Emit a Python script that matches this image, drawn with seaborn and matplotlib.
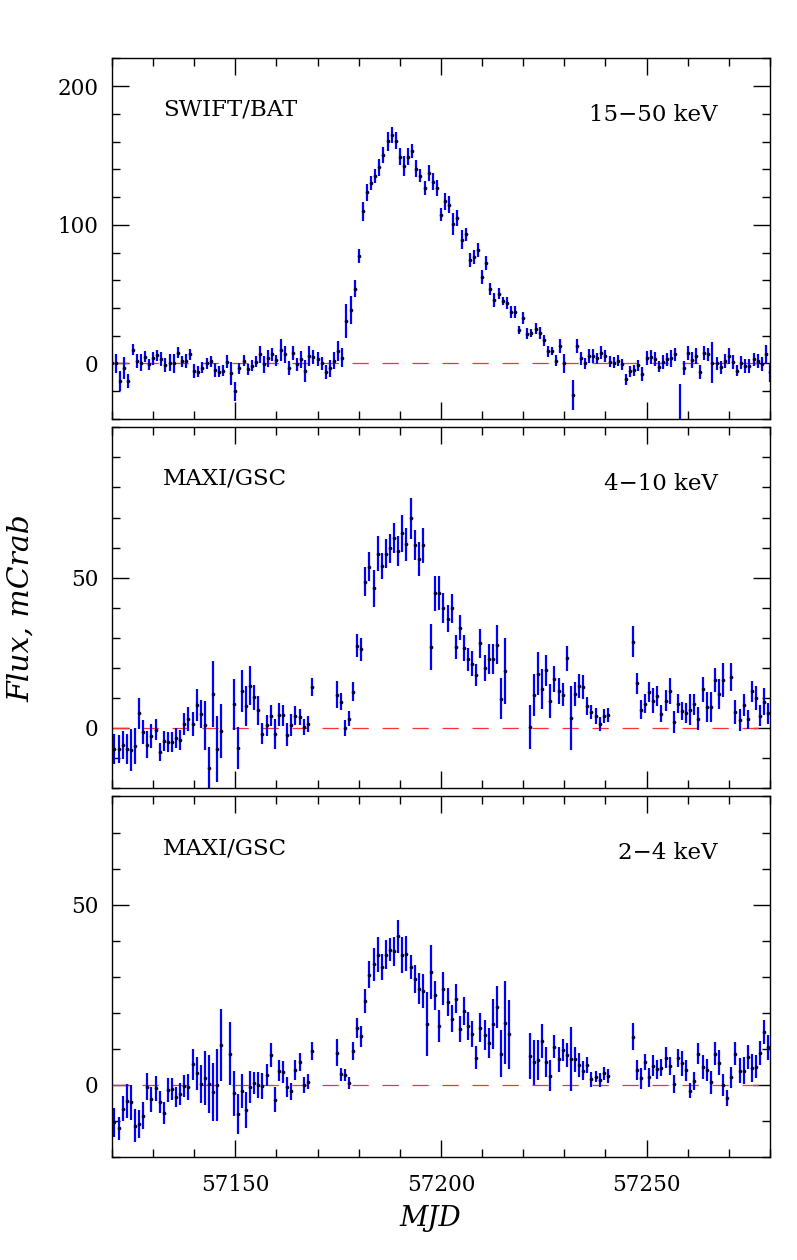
import numpy as np
import pandas as pd
import matplotlib
matplotlib.use("Agg")
import matplotlib.pyplot as plt
import seaborn as sns

nan = np.nan

# SWIFT/BAT 15-50 keV, daily, MJD 57120 ... 57280
bat_mjd = np.arange(57120, 57281)
bat_flux = [
    0.7, 0, -12.7, -3, -12.7, 10, 2, 0.7, 5, -0.5,
    3.6, 6, 3, -1.2, 0.7, 0, 7.7, 1.7, 2, 6.5,
    -5.5, -6, -3, 0, 1.7, -4.8, -6, -5.3, 1.4, -7.2,
    -20, -3.6, 2, -4.3, -1.7, 1.2, 6.5, -0.7, 3.6, 6.5,
    2.4, 9.6, 6.5, -3, 7.7, -0.7, 3, -5.3, 5.5, 4.8,
    3, 0, -6, -3.6, 2, 9, 4.3, 30.7, 38.8, 54,
    77.2, 109.6, 123.5, 130, 135, 141.5, 150.4, 160.2, 164.7, 160.7,
    149, 142.4, 149, 153.5, 140.5, 135.5, 126.4, 137.4, 131, 126.6,
    107.4, 117, 114.4, 100.7, 104.8, 89.2, 93, 74.8, 76.7, 81.5,
    62.3, 72.4, 53.7, 45.5, 50.4, 44.8, 43.6, 37.1, 37.1, 24,
    32.8, 21.6, 22, 25.2, 22, 16.8, 8.8, 8.8, 1.9, 12.4,
    0, nan, -22.8, 12.4, 3.6, 0, 5.4, 5.6, 3.6, 7.9,
    5.4, 1.2, 0.7, 2, -0.7, -11.3, -5.5, -4.8, -1.2, -7.9,
    4.1, 4.8, 3, -2.4, 1.2, 2.9, 3.6, 6.5, -48, -3,
    7.7, 2.4, 5.4, -6, 7.7, 6.5, 0.7, 0, -2.9, 2,
    5.4, 1.2, -5.3, 0.7, -1.9, -1.9, 2.9, 2, -0.5, 6.5,
    -6.5,
]
bat_err = [
    6, 7, 7, 8, 5, 4, 5, 6, 4, 4,
    5, 4, 5, 5, 6, 7, 4, 4, 5, 4,
    5, 4, 4, 4, 4, 5, 4, 4, 5, 8,
    7, 4, 4, 4, 4, 4, 6, 6, 6, 5,
    4, 8, 6, 5, 5, 5, 6, 8, 7, 5,
    5, 5, 5, 6, 6, 7, 7, 12, 10, 6,
    5, 7, 6, 5, 5, 6, 6, 7, 6, 6,
    6, 7, 6, 5, 6, 5, 5, 6, 6, 6,
    5, 6, 6, 8, 6, 7, 5, 5, 5, 5,
    5, 5, 4, 5, 4, 3, 4, 4, 4, 3,
    4, 4, 3, 4, 4, 4, 4, 3, 4, 5,
    7, nan, 11, 5, 5, 4, 5, 5, 4, 5,
    4, 4, 4, 4, 4, 4, 4, 4, 4, 5,
    5, 5, 5, 4, 5, 5, 6, 5, 33, 5,
    5, 6, 6, 5, 5, 5, 15, 5, 5, 5,
    6, 5, 4, 5, 5, 5, 5, 5, 5, 7,
    7,
]

# MAXI/GSC, daily, MJD 57120.6 ... 57279.6
gsc_mjd = np.arange(57120, 57280) + 0.6
gsc_hard = [
    -6.9, -6.9, -5.6, -7, -7.4, -6.1, 4.8, -1.3, -5.6, -2.8,
    -0.6, -8, -4.4, -4.7, -4.7, -3.3, -3.9, 1.3, 3, 1.4,
    7.6, 4.7, 0.8, -13.3, 11.4, -7, -0.9, nan, nan, 7.8,
    -6.7, 12.4, 7.2, 14.1, 10.2, 5.8, -2, 0.8, 4.1, -1.9,
    4.4, 4.2, -2.2, 0.9, 4.1, 3.7, 0.3, 1.3, 13.7, nan,
    nan, nan, nan, nan, 11.1, 8.7, 0, 3.1, 12, 27.4,
    26.1, 48.7, 53.7, 46.4, 58, 53.9, 58, 59.7, 63.1, 58.9,
    64.7, 61.1, 69.8, 60.8, 56.3, 60.8, nan, 27, 44.8, 45,
    40, 36.4, 39.8, 27, 33.3, 26.6, 22.8, 21.4, 17.6, 28.1,
    20, 22.8, 22.8, 27.6, 9.7, 18.9, nan, nan, nan, nan,
    nan, 0.3, 10.9, 18.1, 13, 19.2, 8.9, 16.3, 12.2, 11.1,
    23.1, 3.2, 11.4, 13.9, 13.6, 7.2, 5.3, 3.9, 1.3, 3.9,
    4.2, nan, nan, nan, nan, nan, 28.7, 14.8, 6.1, 8.1,
    11.9, 9.1, 10.6, 4.7, 9.1, 12.4, 1.9, 8.1, 5.6, 5,
    6.1, 7.8, 3, 12.8, 6.9, 7, 15.8, 11.3, 15.9, nan,
    17, 5.3, 2.6, 7.6, 2.8, 12.2, 10, 4.1, 8.7, 4.8,
]
gsc_hard_err = [
    5, 4.7, 4.7, 5, 7, 6, 5, 4, 4.5, 4,
    3.5, 3, 3.3, 3.3, 3.3, 3.3, 3.3, 3.6, 4, 4,
    5.3, 4.7, 8, 7, 11, 11, 9, nan, nan, 8.6,
    7, 7, 6.7, 6.4, 4.2, 4.7, 3.5, 3.6, 3.6, 5,
    3.9, 3.5, 3.8, 3.6, 3.2, 2.6, 2.5, 2.8, 3, nan,
    nan, nan, nan, nan, 4.6, 2.8, 2.7, 2.5, 3.2, 3.9,
    3.9, 4.7, 4.7, 6.3, 5.9, 4.4, 4.9, 4.7, 5, 5,
    6, 5.4, 6.8, 5, 5.6, 5.8, nan, 7.6, 5.8, 5.6,
    5, 4.6, 4.8, 4, 4.2, 4.3, 3.9, 4.2, 3.7, 4.7,
    4.4, 5, 5, 6.5, 6.8, 11, nan, nan, nan, nan,
    nan, 7.3, 7, 7.3, 6.7, 5.2, 5.7, 4.3, 4.4, 3.8,
    4, 10.7, 4, 4, 3.9, 3, 2.4, 2.7, 2.3, 2.4,
    2.4, nan, nan, nan, nan, nan, 5.2, 3.6, 3.2, 3.3,
    3.4, 4.3, 3.4, 2.9, 3.4, 4.3, 3.6, 3.3, 2.9, 3.3,
    5.3, 3.5, 3.8, 4.3, 4.9, 5, 4, 5.1, 5.6, nan,
    4.7, 4, 3.7, 3.6, 3.2, 3.5, 4, 3.6, 4.5, 3.6,
]
gsc_soft = [
    -10.3, -12, -6.6, -4.4, -4.8, -11.3, -10.8, -8.5, -0.5, -4,
    -0.9, -4.8, -7.8, -1.4, -1.2, -3.4, -2.5, -0.3, -0.5, 5.7,
    3.2, 0.3, 1.8, 0.2, -2, 0, 11, nan, 8.7, -2.3,
    -8.1, -1.8, -6.9, -0.6, 0.5, 0, -0.3, 2.8, 8.3, -4.1,
    4, 3.5, -0.6, -1.8, 4.1, 6.3, 0, 0.9, 9.4, nan,
    nan, nan, nan, nan, 8.9, 3, 2.8, 0.5, 9.5, 15.8,
    13.5, 23.3, 30.6, 33.4, 36.1, 32.7, 36.1, 37.5, 37.1, 41.2,
    36.1, 36.4, 32.7, 29.3, 26.7, 26.1, 16.9, 31.3, 24.9, 16.3,
    26.7, 23, 18.4, 23.9, 15.5, 20.4, 16.3, 14.1, 7.6, 15.9,
    13.8, 11.7, 16.9, 21.5, 8.7, 17.3, 14, nan, nan, nan,
    nan, 8, 6.3, 6.9, 12.2, 6.3, 2.6, 10.6, 7.1, 9.7,
    8.3, 7.1, 7.1, 5.5, 4, 5.5, 1.6, 2.3, 1.4, 3.2,
    2.5, nan, nan, nan, nan, nan, 13.4, 4.1, 1.8, 6.4,
    2.1, 5.3, 4.3, 4.8, 7.6, 5.3, 0.3, 7.6, 6, 4.1,
    -1.6, 1.2, 8.7, 4.9, 4.1, 0.7, 8.7, 6.2, 0, -3.7,
    2.1, 8.7, 4, 4, 7.8, 4.6, 5.1, 8.9, 14.7, 10.4,
]
gsc_soft_err = [
    4, 3.2, 3.5, 4.7, 4.8, 4.6, 3.9, 3.7, 3.8, 3.5,
    3.5, 3, 3, 3.2, 3.1, 2.8, 3, 3, 3.6, 4.2,
    4.6, 5.3, 7.5, 8, 8, 10, 10, nan, 8.7, 6.2,
    5.5, 4.7, 5, 4.4, 3.1, 3.5, 3.5, 3.1, 3.3, 3.5,
    3, 3.1, 2.8, 2.4, 2.8, 2.5, 2.2, 2.1, 2.5, nan,
    nan, nan, nan, nan, 3.7, 1.8, 1.6, 1.7, 2.5, 2.9,
    2.9, 3.4, 3.7, 4.5, 4.8, 3.7, 4, 3.2, 4, 4.6,
    5, 4.8, 3.2, 3.9, 4.3, 4.7, 9, 7.5, 4, 4.4,
    4.6, 3.9, 3.8, 4, 3.7, 3.9, 3.9, 3.5, 3.2, 4.1,
    4.2, 4.2, 6.9, 5.8, 6.4, 11.4, 9.6, nan, nan, nan,
    nan, 6.4, 6.2, 5.5, 4.7, 4.2, 4.3, 3.2, 3.5, 3,
    3.4, 8.9, 3.5, 3.3, 2.7, 2.3, 2.1, 1.5, 2, 1.8,
    2, nan, nan, nan, nan, nan, 3.8, 2.7, 2.9, 2.3,
    2.7, 2.9, 2.7, 2.4, 2.9, 2.5, 2.5, 2.5, 3.5, 2.9,
    2.1, 2.5, 3, 3.3, 3, 3.1, 3.1, 3.5, 3.1, 2.2,
    3, 3.2, 3.5, 3.7, 3.4, 3.9, 3.1, 3.4, 3.4, 3.5,
]

panels = [
    # mjd, flux, err, instrument, band, ylim, major ticks, minor step
    (bat_mjd, bat_flux, bat_err, "SWIFT/BAT", "15\u221250 keV", (-40, 220), [0, 100, 200], 20),
    (gsc_mjd, gsc_hard, gsc_hard_err, "MAXI/GSC", "4\u221210 keV", (-20, 100), [0, 50], 10),
    (gsc_mjd, gsc_soft, gsc_soft_err, "MAXI/GSC", "2\u22124 keV", (-20, 80), [0, 50], 10),
]

sns.set_theme(style="ticks")
plt.rcParams["font.family"] = ["DejaVu Serif"]
plt.rcParams["mathtext.fontset"] = "dejavuserif"
plt.rcParams.update({
    "text.color": "black",
    "axes.labelcolor": "black",
    "xtick.color": "black",
    "ytick.color": "black",
    "axes.edgecolor": "black",
})

fig = plt.figure(figsize=(7.97, 12.6), dpi=100)
ax_left, ax_width, ax_height = 0.1405, 0.8256, 0.2862
bottoms = [0.6675, 0.3746, 0.0817]


def draw_panel(ax, mjd, flux, err, instrument, band, ylim, major, minor, show_x):
    df = pd.DataFrame({"mjd": mjd, "flux": flux, "err": err}).dropna()

    ax.axhline(0, color="#ff3030", linewidth=0.9, dashes=(13, 11), zorder=1)
    ax.errorbar(df["mjd"], df["flux"], yerr=df["err"], fmt="none",
                ecolor="#0000ff", elinewidth=1.6, capsize=0, zorder=2)
    sns.scatterplot(data=df, x="mjd", y="flux", ax=ax, color="#000033",
                    marker="o", s=7, linewidth=0, zorder=3, legend=False)

    ax.set_xlim(57120, 57280)
    ax.set_ylim(*ylim)
    ax.set_xticks([57150, 57200, 57250])
    ax.set_xticks(np.arange(57120, 57281, 10), minor=True)
    ax.set_yticks(major)
    ax.set_yticks(np.arange(ylim[0], ylim[1] + 1, minor), minor=True)
    ax.tick_params(which="both", direction="in", top=True, right=True,
                   color="black", width=1.0, labelsize=15.5, labelcolor="black")
    ax.tick_params(which="major", length=12, pad=10)
    ax.tick_params(which="minor", length=6)
    ax.tick_params(axis="x", labelbottom=show_x, pad=12)
    for sp in ax.spines.values():
        sp.set_linewidth(1.0)
        sp.set_color("black")
    ax.set_xlabel("")
    ax.set_ylabel("")

    ax.text(0.0775, 0.857, instrument, transform=ax.transAxes,
            ha="left", va="center", fontsize=16.5, color="black")
    ax.text(0.921, 0.842, band, transform=ax.transAxes,
            ha="right", va="center", fontsize=16.5, color="black")


for i, (mjd, flux, err, inst, band, ylim, major, minor) in enumerate(panels):
    ax = fig.add_axes([ax_left, bottoms[i], ax_width, ax_height])
    draw_panel(ax, mjd, flux, err, inst, band, ylim, major, minor, show_x=(i == 2))

fig.text(0.026, 0.5175, "Flux, mCrab", rotation=90, ha="center", va="center",
         fontsize=21.5, style="italic", color="black")
fig.text(0.54, 0.033, "MJD", ha="center", va="center", fontsize=20,
         style="italic", color="black")

fig.savefig("out.png", dpi=100)
